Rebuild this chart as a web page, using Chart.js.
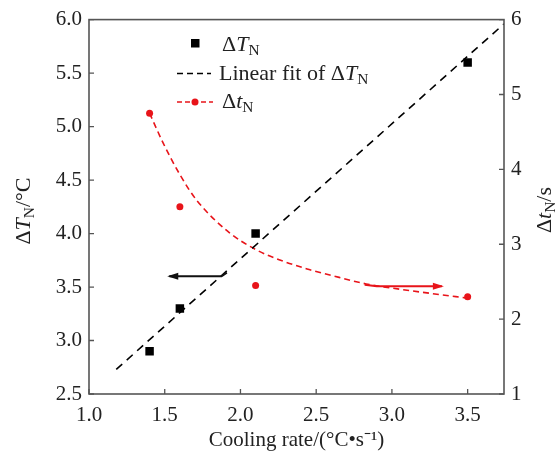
<!DOCTYPE html>
<html>
<head>
<meta charset="utf-8">
<script src="https://cdn.jsdelivr.net/npm/chart.js@4"></script>
<style>
  body { margin: 0; background: #fff; }
  #wrap { width: 558px; height: 453px; }
</style>
</head>
<body>
<div id="wrap"><canvas id="grafico" width="558" height="453"></canvas></div>
<script>
// data
const coolingRate = [1.4, 1.6, 2.1, 3.5];
const deltaT = [2.9, 3.3, 4.0, 5.6];        // ΔT_N, °C (left axis)
const deltaTime = [4.75, 3.5, 2.45, 2.3];   // Δt_N, s (right axis)

// linear fit of ΔT_N, ends as drawn
const fitX = [1.18, 3.74];
const fitY = [2.73, 5.96];

// red dashed guide curve for Δt_N, read point by point
const curveX = [1.4, 1.49, 1.6, 1.71, 1.93, 2.1, 2.26, 2.44, 2.59, 2.83, 3.05, 3.27, 3.5];
const curveY = [4.75, 4.35, 3.93, 3.59, 3.15, 2.93, 2.79, 2.67, 2.59, 2.47, 2.40, 2.34, 2.28];

// tick labels
const xTicks = [1.0, 1.5, 2.0, 2.5, 3.0, 3.5];
const yLeftTicks = [2.5, 3.0, 3.5, 4.0, 4.5, 5.0, 5.5, 6.0];
const yRightTicks = [1, 2, 3, 4, 5, 6];

// arrows (data coordinates)
const arrowBlackX = [1.53, 1.875, 1.91];
const arrowBlackY = [3.6, 3.6, 3.635];
const arrowRedX = [2.82, 2.9, 3.33];
const arrowRedY = [2.46, 2.44, 2.44];

const FONT = '"Liberation Serif", "Times New Roman", serif';
const TXT = '#222';

function pts(xs, ys) {
  return xs.map((x, i) => ({ x: x, y: ys[i] }));
}

// draws text with italic / subscript pieces
function richWidth(ctx, parts, size) {
  let w = 0;
  parts.forEach(p => {
    ctx.font = (p.i ? 'italic ' : '') + (p.sub ? size * 0.7 : size) + 'px ' + FONT;
    w += ctx.measureText(p.t).width;
  });
  return w;
}
function drawRich(ctx, parts, x, y, size) {
  parts.forEach(p => {
    ctx.font = (p.i ? 'italic ' : '') + (p.sub ? size * 0.7 : size) + 'px ' + FONT;
    ctx.fillText(p.t, x, p.sub ? y + size * 0.2 : y);
    x += ctx.measureText(p.t).width;
  });
}

function arrow(ctx, xs, ys, color, headAtStart) {
  ctx.save();
  ctx.strokeStyle = color;
  ctx.fillStyle = color;
  ctx.lineWidth = 2;
  ctx.beginPath();
  ctx.moveTo(xs[0], ys[0]);
  for (let i = 1; i < xs.length; i++) ctx.lineTo(xs[i], ys[i]);
  ctx.stroke();
  let hx, hy, dir;
  if (headAtStart) { hx = xs[0]; hy = ys[0]; dir = -1; }
  else { hx = xs[xs.length - 1]; hy = ys[ys.length - 1]; dir = 1; }
  ctx.beginPath();
  ctx.moveTo(hx + dir * 2, hy);
  ctx.lineTo(hx - dir * 9, hy - 3.5);
  ctx.lineTo(hx - dir * 9, hy + 3.5);
  ctx.closePath();
  ctx.fill();
  ctx.restore();
}

const decoracao = {
  id: 'decoracao',
  afterDatasetsDraw(chart) {
    const ctx = chart.ctx;
    const a = chart.chartArea;
    const sx = chart.scales.x, sy = chart.scales.y, sy1 = chart.scales.y1;

    // frame
    ctx.save();
    ctx.strokeStyle = '#555';
    ctx.lineWidth = 1.6;
    ctx.strokeRect(a.left, a.top, a.right - a.left, a.bottom - a.top);

    // inward ticks
    ctx.lineWidth = 1.3;
    ctx.beginPath();
    xTicks.forEach(v => {
      const px = sx.getPixelForValue(v);
      ctx.moveTo(px, a.bottom); ctx.lineTo(px, a.bottom - 5);
    });
    yLeftTicks.forEach(v => {
      const py = sy.getPixelForValue(v);
      ctx.moveTo(a.left, py); ctx.lineTo(a.left + 5, py);
    });
    yRightTicks.forEach(v => {
      const py = sy1.getPixelForValue(v);
      ctx.moveTo(a.right, py); ctx.lineTo(a.right - 5, py);
    });
    ctx.stroke();
    ctx.restore();

    // arrows
    arrow(ctx, arrowBlackX.map(v => sx.getPixelForValue(v)), arrowBlackY.map(v => sy.getPixelForValue(v)), '#111', true);
    arrow(ctx, arrowRedX.map(v => sx.getPixelForValue(v)), arrowRedY.map(v => sy1.getPixelForValue(v)), '#e8141a', false);

    // legend
    ctx.save();
    ctx.textBaseline = 'alphabetic';
    ctx.fillStyle = '#000';
    ctx.fillRect(191, 39, 8.5, 8.5);
    ctx.fillStyle = TXT;
    drawRich(ctx, [{ t: 'Δ' }, { t: 'T', i: true }, { t: 'N', sub: true }], 222, 51, 22);

    ctx.strokeStyle = '#000';
    ctx.lineWidth = 1.6;
    ctx.setLineDash([6, 4]);
    ctx.beginPath(); ctx.moveTo(177, 73.5); ctx.lineTo(211, 73.5); ctx.stroke();
    drawRich(ctx, [{ t: 'Linear fit of Δ' }, { t: 'T', i: true }, { t: 'N', sub: true }], 219, 80, 22);

    ctx.strokeStyle = '#e8141a';
    ctx.setLineDash([5, 3]);
    ctx.beginPath(); ctx.moveTo(177, 102); ctx.lineTo(213, 102); ctx.stroke();
    ctx.setLineDash([]);
    ctx.fillStyle = '#e8141a';
    ctx.beginPath(); ctx.arc(195, 102, 3.5, 0, Math.PI * 2); ctx.fill();
    ctx.fillStyle = TXT;
    drawRich(ctx, [{ t: 'Δ' }, { t: 't', i: true }, { t: 'N', sub: true }], 222, 108, 22);

    // rotated axis titles
    const left = [{ t: 'Δ' }, { t: 'T', i: true }, { t: 'N', sub: true }, { t: '/°C' }];
    const right = [{ t: 'Δ' }, { t: 't', i: true }, { t: 'N', sub: true }, { t: '/s' }];
    ctx.translate(30, 211);
    ctx.rotate(-Math.PI / 2);
    drawRich(ctx, left, -richWidth(ctx, left, 22) / 2, 0, 22);
    ctx.setTransform(1, 0, 0, 1, 0, 0);
    ctx.translate(551, 210);
    ctx.rotate(-Math.PI / 2);
    drawRich(ctx, right, -richWidth(ctx, right, 22) / 2, 0, 22);
    ctx.restore();
  }
};

let grafico = document.getElementById('grafico');
const config = {
  type: 'scatter',
  data: {
    datasets: [
      {
        label: 'Linear fit',
        type: 'line',
        data: pts(fitX, fitY),
        yAxisID: 'y',
        borderColor: '#000',
        borderWidth: 1.6,
        borderDash: [8, 6],
        pointRadius: 0,
        fill: false
      },
      {
        label: 'curve',
        type: 'line',
        data: pts(curveX, curveY),
        yAxisID: 'y1',
        borderColor: '#e8141a',
        borderWidth: 1.6,
        borderDash: [6, 4],
        pointRadius: 0,
        cubicInterpolationMode: 'monotone',
        fill: false
      },
      {
        label: 'ΔT_N',
        data: pts(coolingRate, deltaT),
        yAxisID: 'y',
        pointStyle: 'rect',
        pointRadius: 6,
        backgroundColor: '#000',
        borderColor: '#000',
        borderWidth: 0
      },
      {
        label: 'Δt_N',
        data: pts(coolingRate, deltaTime),
        yAxisID: 'y1',
        pointRadius: 3.5,
        backgroundColor: '#e8141a',
        borderColor: '#e8141a',
        borderWidth: 0
      }
    ]
  },
  options: {
    responsive: false,
    devicePixelRatio: 1,
    animation: false,
    layout: { padding: { top: 19, left: 0, right: 0, bottom: 0 } },
    plugins: { legend: { display: false }, tooltip: { enabled: false } },
    scales: {
      x: {
        type: 'linear',
        min: 1.0,
        max: 3.74,
        grid: { display: false, drawTicks: false },
        border: { display: false },
        afterBuildTicks: s => { s.ticks = xTicks.map(v => ({ value: v })); },
        afterFit: s => { s.height = 59; },
        ticks: {
          padding: 9,
          color: TXT,
          font: { family: FONT, size: 21 },
          callback: v => Number(v).toFixed(1)
        },
        title: {
          display: true,
          text: 'Cooling rate/(°C•s⁻¹)',
          color: TXT,
          font: { family: FONT, size: 21 },
          padding: { top: 0, bottom: 0 }
        }
      },
      y: {
        type: 'linear',
        position: 'left',
        min: 2.5,
        max: 6.0,
        grid: { display: false, drawTicks: false },
        border: { display: false },
        afterBuildTicks: s => { s.ticks = yLeftTicks.map(v => ({ value: v })); },
        afterFit: s => { s.width = 89; },
        ticks: {
          padding: 7,
          color: TXT,
          font: { family: FONT, size: 21 },
          callback: v => Number(v).toFixed(1)
        }
      },
      y1: {
        type: 'linear',
        position: 'right',
        min: 1,
        max: 6,
        grid: { display: false, drawTicks: false },
        border: { display: false },
        afterBuildTicks: s => { s.ticks = yRightTicks.map(v => ({ value: v })); },
        afterFit: s => { s.width = 54; },
        ticks: {
          padding: 7,
          color: TXT,
          font: { family: FONT, size: 21 },
          callback: v => String(v)
        }
      }
    }
  },
  plugins: [decoracao]
};

let myGraph = new Chart(grafico, config);
</script>
</body>
</html>
